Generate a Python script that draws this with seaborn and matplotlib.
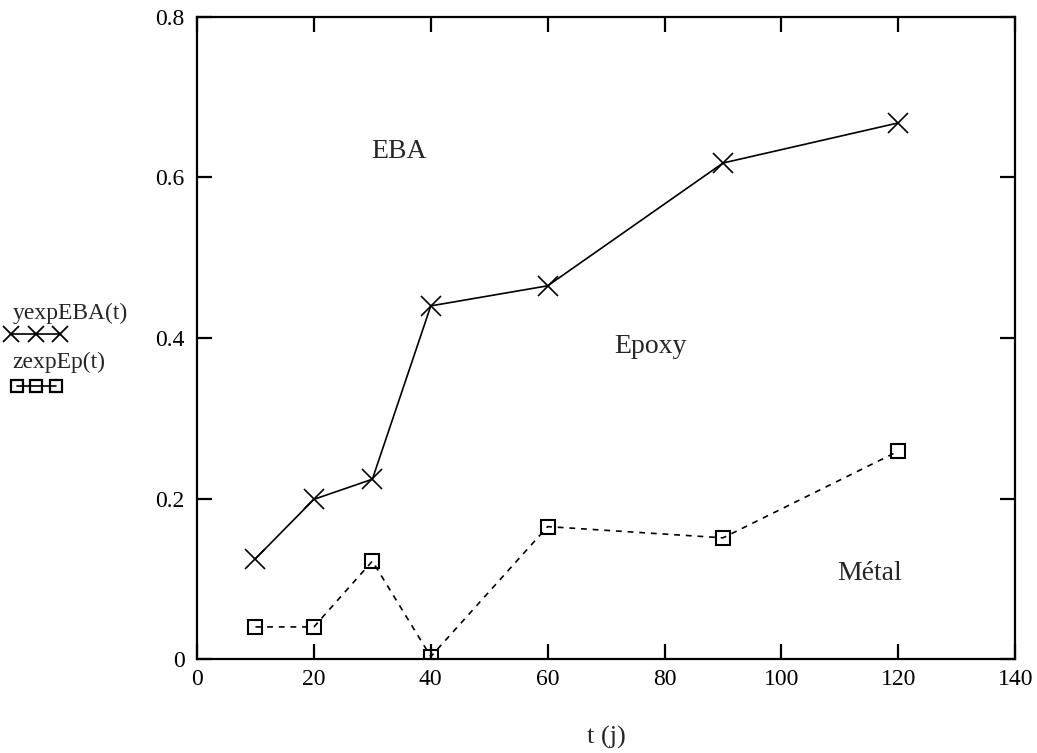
import numpy as np
import pandas as pd
import matplotlib
matplotlib.use("Agg")
import matplotlib.pyplot as plt
from matplotlib.lines import Line2D
import seaborn as sns

# values
t_days = [10, 20, 30, 40, 60, 90, 120]
y_eba = [0.125, 0.199, 0.224, 0.440, 0.465, 0.618, 0.668]
z_epoxy = [0.040, 0.040, 0.122, 0.003, 0.165, 0.151, 0.259]
x_ticks = [0, 20, 40, 60, 80, 100, 120, 140]
y_ticks = [0, 0.2, 0.4, 0.6, 0.8]
y_tick_labels = ["0", "0.2", "0.4", "0.6", "0.8"]

sns.set_style("ticks")
plt.rcParams['font.family'] = ['Liberation Serif', 'DejaVu Serif']

df = pd.DataFrame({"t": t_days, "eba": y_eba, "ep": z_epoxy})

fig = plt.figure(figsize=(10.37, 7.53), dpi=100)
ax = fig.add_axes([0.19, 0.1248, 0.789, 0.8527])

sns.lineplot(data=df, x="t", y="eba", ax=ax, color="black", linewidth=1.2,
             marker="x", markersize=14, markeredgewidth=1.2, markeredgecolor="black")
sns.lineplot(data=df, x="t", y="ep", ax=ax, color="black", linewidth=1.2,
             linestyle=(0, (3.5, 3.5)), marker="s", markersize=9.5,
             markerfacecolor="none", markeredgewidth=1.5, markeredgecolor="black")

ax.set_xlim(0, 140)
ax.set_ylim(0, 0.8)
ax.set_xticks(x_ticks)
ax.set_yticks(y_ticks)
ax.set_yticklabels(y_tick_labels)
ax.tick_params(direction="in", length=11, width=1.6, labelsize=17, pad=7,
               top=True, right=True, colors="black")
ax.tick_params(axis="y", pad=9)
for s in ax.spines.values():
    s.set_visible(True)
    s.set_linewidth(1.6)
    s.set_color("black")

ax.set_xlabel("t (j)", fontsize=19, labelpad=26)
ax.set_ylabel("")

ax.text(34.5, 0.632, "EBA", fontsize=20, ha="center", va="center")
ax.text(77.5, 0.39, "Epoxy", fontsize=20, ha="center", va="center")
ax.text(115, 0.107, "Métal", fontsize=20, ha="center", va="center")

# legend at the left, outside the axes
fig.text(0.012, 0.584, "yexpEBA(t)", fontsize=17, ha="left", va="center")
fig.add_artist(Line2D([0.011, 0.035, 0.058], [0.557, 0.557, 0.557], color="black",
                      lw=1.2, marker="x", markersize=12, markeredgewidth=1.3,
                      transform=fig.transFigure))
fig.text(0.012, 0.519, "zexpEp(t)", fontsize=17, ha="left", va="center")
fig.add_artist(Line2D([0.016, 0.035, 0.054], [0.487, 0.487, 0.487], color="black",
                      lw=1.2, marker="s", markersize=8, markerfacecolor="none",
                      markeredgewidth=1.6, transform=fig.transFigure))

fig.savefig("out.png", dpi=100)
